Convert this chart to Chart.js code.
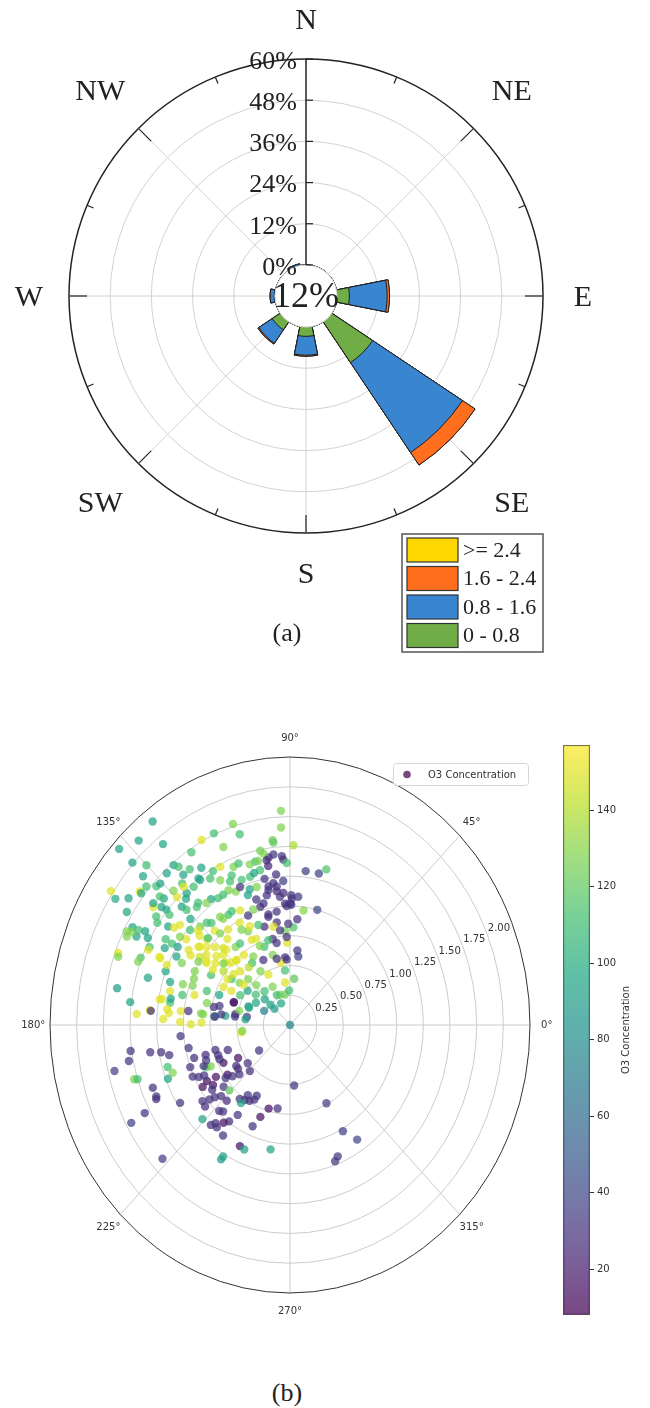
<!DOCTYPE html>
<html><head><meta charset="utf-8">
<script src="https://cdn.jsdelivr.net/npm/chart.js@4.4.1/dist/chart.umd.min.js"></script>
<style>
html,body{margin:0;padding:0;background:#fff;}
body{width:650px;height:1408px;position:relative;overflow:hidden;}
canvas{position:absolute;}
.cap{position:absolute;font-family:"Liberation Serif",serif;font-size:26px;color:#222;transform:translate(-50%,-50%);white-space:nowrap;}
</style></head><body>
<canvas id="rose" width="650" height="660" style="left:0;top:0"></canvas>
<div class="cap" style="left:287px;top:633px">(a)</div>
<canvas id="polar" width="560" height="640" style="left:0;top:700px"></canvas>
<canvas id="cbar" width="110" height="620" style="left:540px;top:720px"></canvas>
<div class="cap" style="left:287px;top:1393px">(b)</div>
<script>
// ---------------- (a) wind rose data ----------------
const directions = ['N','NNE','NE','ENE','E','ESE','SE','SSE','S','SSW','SW','WSW','W','WNW','NW','NNW'];
const compassLabels = ['N','NE','E','SE','S','SW','W','NW'];
const speedBins = ['0 - 0.8','0.8 - 1.6','1.6 - 2.4','>= 2.4'];
const freqSpeed0to08  = [0,0,0,0,3.6,0,14.3,0,2.7,0,2.8,0,0.2,0,0,0];
const freqSpeed08to16 = [0,0,0,0,11.0,0,31.5,0,5.5,0,4.7,0,1.2,0,0,0.5];
const freqSpeed16to24 = [0,0,0,0,0.7,0,4.4,0,0.3,0,0.3,0,0,0,0,0];
const freqSpeed24up   = [0,0,0,0,0,0,0,0,0,0,0,0,0,0,0,0];
const roseTicks = [0,12,24,36,48,60];
const roseCenterText = '12%';
const binColors = ['#70AD47','#3A85D0','#FF6F1E','#FFD700'];

// ---------------- (b) polar scatter data ----------------
const windDirDeg = [
 92.7,92.9,88.8,96.0,83.5,78.0,75.4,98.1,92.6,100.8,
 95.8,96.2,93.1,91.3,99.8,103.4,99.0,98.7,95.9,93.0,
 93.2,89.4,85.9,89.3,82.5,75.2,87.8,85.6,83.7,82.3,
 94.6,84.2,97.5,110.2,114.7,95.0,100.1,92.6,98.2,93.3,
 92.2,102.7,106.2,102.3,105.7,113.1,99.8,96.3,101.0,106.7,
 100.4,91.6,
 107.6,106.4,113.9,118.1,127.0,132.5,128.1,137.3,137.3,135.1,
 122.5,112.7,146.2,147.1,148.2,159.4,150.9,152.8,169.2,172.7,
 176.3,174.6,158.0,163.4,155.0,162.2,169.7,170.6,177.6,174.9,
 173.5,179.6,173.0,173.7,174.0,172.8,168.0,160.1,169.9,170.5,
 158.1,166.0,187.6,
 144.9,141.5,139.2,137.1,132.2,129.1,128.4,122.2,119.2,116.2,
 111.7,105.6,102.2,106.7,115.0,121.3,127.9,131.2,134.6,138.1,
 140.1,144.0,144.1,140.8,131.4,122.3,117.0,109.6,122.0,135.6,
 148.3,151.6,125.9,140.1,154.1,152.7,160.4,
 143.5,142.6,143.0,143.5,144.1,144.8,143.2,144.1,141.5,137.6,
 137.1,136.9,137.3,137.1,136.8,136.5,136.1,135.6,133.3,130.0,
 137.4,147.9,152.8,153.2,150.5,146.7,131.7,129.1,127.9,126.3,
 124.3,121.5,115.6,116.9,116.2,125.1,119.8,118.8,116.5,113.7,
 110.1,105.4,99.3,95.8,104.8,113.5,124.9,130.4,134.1,132.6,
 130.0,125.0,119.8,114.4,109.9,135.6,140.7,140.6,145.4,143.0,
 148.3,148.1,136.4,132.3,141.6,142.3,149.9,153.6,158.8,165.8,
 166.0,164.3,166.7,159.2,152.5,159.9,156.7,152.9,151.8,149.7,
 153.9,140.0,139.0,141.0,134.0,138.5,145.5,133.0,128.5,142.0,
 146.0,
 174.4,172.1,160.2,159.4,173.4,186.4,172.2,166.4,173.3,178.6,
 178.6,173.4,168.8,170.0,174.8,161.2,160.2,
 185.2,191.5,197.1,197.6,196.7,199.8,204.3,205.0,207.0,209.7,
 219.0,216.4,225.8,217.0,215.5,212.1,211.1,207.0,200.7,212.4,
 214.9,219.8,224.0,220.7,217.9,220.7,227.4,227.0,232.8,236.0,
 236.1,237.0,234.8,228.5,223.9,232.8,250.2,254.1,235.9,231.4,
 245.2,260.1,240.4,240.2,223.2,208.9,208.5,206.4,202.3,197.3,
 197.7,193.2,191.3,188.3,189.9,190.7,192.6,197.1,201.5,212.4,
 274.4,297.5,299.1,303.2,292.1,290.3,200.0,203.1,200.6,200.6,
 203.5,214.3,221.1,218.6,216.4,216.7,222.7,219.6,229.8,229.2,
 234.9,239.2,241.9,242.3,247.6,247.7,260.6,205.4,207.8,205.6,
 0,
 137.8,135.7,128.2,125.7,109.6,102.2,110.4,118.3,124.7,130.7,
 138.5,141.4,135.1,127.4,112.0,108.3,105.1,96.1,90.0,103.7,
 115.9,125.8,130.7,139.6,144.3,151.2,146.5,142.1,136.5,130.4,
 119.6,114.4,109.5,102.6,100.7,96.7,91.1,92.4,100.3,105.9,
 113.1,116.7,124.4,133.3,146.4,148.2,147.3,140.4,132.5,120.9,
 114.6,102.6,93.3,152.2,150.7,151.3,154.6,159.5,155.3,156.4,
 97.5,101.3,91.8,89.1,97.5
];
const windSpeed = [
 1.80,1.66,1.51,1.56,1.30,1.30,1.35,1.42,1.39,1.49,
 1.54,1.44,1.42,1.36,1.46,1.41,1.40,1.35,1.27,1.21,
 1.11,1.09,1.08,1.01,0.97,1.00,0.82,0.89,0.63,0.58,
 0.57,0.39,0.36,0.27,0.20,1.08,1.15,1.02,0.87,0.79,
 0.69,0.74,0.86,0.95,1.03,1.00,1.18,1.13,1.25,1.10,
 0.26,0.29,
 1.77,1.67,1.76,1.76,2.14,2.10,1.93,2.18,2.01,1.90,
 1.72,1.62,2.02,1.95,1.80,1.72,1.69,1.72,1.65,1.51,
 1.44,1.32,1.51,1.39,1.35,1.18,1.22,1.14,1.19,1.14,
 1.03,0.93,0.96,0.82,0.71,0.61,0.73,0.56,0.52,0.41,
 0.42,0.49,0.46,
 1.85,1.80,1.78,1.71,1.72,1.73,1.61,1.56,1.48,1.48,
 1.43,1.40,1.33,1.30,1.33,1.44,1.47,1.47,1.51,1.59,
 1.51,1.55,1.41,1.33,1.32,1.26,1.27,1.03,1.09,1.18,
 1.30,1.21,0.99,0.90,1.70,1.62,1.71,
 1.21,1.08,0.98,0.87,0.77,0.67,0.59,0.49,0.41,0.32,
 0.25,0.20,1.06,0.96,0.86,0.76,0.65,0.55,0.46,0.37,
 1.17,1.10,1.14,1.00,0.85,0.70,1.06,0.93,0.83,0.73,
 0.63,0.53,0.47,0.36,0.28,1.09,1.10,0.98,0.88,0.79,
 0.70,0.61,0.53,0.46,1.32,1.37,1.50,1.56,1.57,1.44,
 1.34,1.29,1.26,1.23,1.16,1.42,1.46,1.56,1.51,1.36,
 1.37,1.24,1.29,1.16,1.78,1.62,1.57,1.47,1.25,1.16,
 1.04,0.93,0.80,0.71,0.62,0.83,0.98,0.70,0.53,0.37,
 0.27,1.02,0.80,0.68,0.90,1.13,0.95,0.74,0.62,0.55,
 1.02,
 0.71,0.65,0.56,0.41,0.42,0.45,0.52,0.68,0.84,0.83,
 1.03,1.16,1.14,1.24,1.31,1.06,0.97,
 1.03,0.97,0.94,0.83,0.73,0.62,0.86,0.82,0.70,0.56,
 0.51,0.36,0.54,0.61,0.72,0.82,0.91,0.96,1.00,0.97,
 0.88,0.81,0.79,0.93,1.04,1.05,0.98,0.87,0.78,0.76,
 0.71,0.90,0.99,1.12,1.14,1.03,0.82,0.73,1.12,1.10,
 1.12,1.06,1.27,1.30,1.64,1.70,1.55,1.40,1.39,1.53,
 1.50,1.69,1.54,1.51,1.33,1.23,1.16,1.20,1.23,1.22,
 0.51,0.74,1.02,1.15,1.19,1.22,1.17,0.88,0.84,0.72,
 0.72,0.61,0.63,0.69,0.75,0.91,0.88,0.98,1.08,0.96,
 0.80,0.74,0.71,0.67,0.92,1.13,0.71,1.01,0.91,1.39,
 0,
 1.86,1.70,1.69,1.61,1.44,1.41,1.30,1.38,1.48,1.53,
 1.63,1.64,1.37,1.29,1.25,1.20,1.20,1.17,1.02,1.05,
 1.07,1.12,1.13,1.23,1.27,1.34,1.14,1.07,1.06,1.01,
 0.92,0.91,0.89,0.93,0.84,0.80,0.85,0.74,0.70,0.74,
 0.72,0.80,0.83,0.87,0.94,1.01,0.86,0.81,0.74,0.67,
 0.60,0.57,0.55,1.68,1.63,1.52,1.47,1.52,1.34,1.26,
 1.20,1.11,1.00,1.06,0.96
];
const o3Conc = [
 128,128,138,125,35,38,115,30,28,125,
 120,32,30,112,128,110,28,25,30,35,
 28,30,34,32,130,40,115,30,32,36,
 30,120,150,128,95,30,32,30,28,125,
 150,30,25,28,30,30,30,26,30,32,
 125,112,
 128,112,112,150,95,95,95,95,95,112,
 112,128,150,100,95,150,95,128,90,95,
 150,150,115,95,150,95,150,112,150,150,
 150,150,30,128,95,95,30,25,30,30,
 95,128,150,
 95,150,112,112,95,95,95,95,112,150,
 128,128,112,112,112,112,112,95,150,95,
 95,112,95,150,112,112,128,128,112,128,
 112,95,150,150,128,95,128,
 150,150,150,150,140,112,128,95,112,95,
 95,90,150,150,150,150,150,128,128,112,
 150,150,128,128,112,150,150,150,128,150,
 112,128,150,128,112,128,112,150,128,150,
 112,128,150,112,95,112,95,112,128,95,
 112,95,112,128,95,95,112,95,112,150,
 112,95,95,112,95,150,95,112,95,150,
 112,150,128,95,150,112,128,150,112,95,
 70,152,148,150,146,150,150,150,140,150,
 145,
 30,30,15,95,95,128,30,30,128,150,
 150,150,95,150,30,128,128,
 30,30,28,25,30,28,112,128,15,15,
 30,30,28,30,15,15,15,30,30,15,
 15,30,120,30,30,28,30,25,30,30,
 30,30,28,30,95,15,15,15,30,30,
 15,95,95,90,35,35,30,30,30,128,
 112,35,30,30,30,30,30,112,95,30,
 30,35,35,38,32,32,128,30,30,30,
 30,30,30,30,30,30,30,30,30,30,
 95,30,30,30,30,95,30,30,30,30,
 75,
 95,95,112,112,112,128,112,128,95,150,
 112,95,112,128,30,95,128,30,30,30,
 150,128,112,112,128,95,150,150,112,128,
 128,150,112,30,150,30,30,30,30,112,
 128,150,112,150,150,128,150,128,150,128,
 30,30,30,128,112,95,150,128,150,150,
 30,30,30,30,30
];
const ringTicks = [0.25,0.50,0.75,1.00,1.25,1.50,1.75,2.00];
const rMax = 2.25;
const angleTicks = [0,45,90,135,180,225,270,315];
const o3Min = 8, o3Max = 157;
const colorbarTicks = [20,40,60,80,100,120,140];
const seriesName = 'O3 Concentration';

// ---------------- helpers ----------------
const VIRIDIS = ['#440154','#482475','#414487','#355f8d','#2a788e','#21918c','#22a884','#44bf70','#7ad151','#bddf26','#fde725'];
function hexRgb(h){return [parseInt(h.slice(1,3),16),parseInt(h.slice(3,5),16),parseInt(h.slice(5,7),16)];}
function viridis(v,a){
  let t=(v-o3Min)/(o3Max-o3Min); t=Math.max(0,Math.min(1,t));
  const p=t*(VIRIDIS.length-1), i=Math.min(Math.floor(p),VIRIDIS.length-2), f=p-i;
  const c0=hexRgb(VIRIDIS[i]), c1=hexRgb(VIRIDIS[i+1]);
  const c=c0.map((x,k)=>Math.round(x+(c1[k]-x)*f));
  return `rgba(${c[0]},${c[1]},${c[2]},${a})`;
}
function cumulative(){
  const layers=[freqSpeed0to08,freqSpeed08to16,freqSpeed16to24,freqSpeed24up];
  const out=[]; let run=directions.map(()=>0);
  layers.forEach(l=>{run=run.map((v,i)=>v+l[i]); out.push(run.slice());});
  return out;
}

// ---------------- (a) chart ----------------
const serif='"Liberation Serif", serif';
const cum=cumulative();
const roseDatasets=speedBins.map((lab,i)=>({label:lab,data:cum[i],backgroundColor:binColors[i],borderColor:'#1e1e1e',borderWidth:1}));

function polarPt(cx,cy,d,a){const r=a*Math.PI/180;return [cx+d*Math.sin(r),cy-d*Math.cos(r)];}
const rosePlugin={
  id:'roseDecor',
  beforeDatasetsDraw(chart){
    const s=chart.scales.r, ctx=chart.ctx, cx=s.xCenter, cy=s.yCenter;
    const r0=s.getDistanceFromCenterForValue(0), R=s.getDistanceFromCenterForValue(roseTicks[roseTicks.length-1]);
    ctx.save(); ctx.strokeStyle='#d2d2d2'; ctx.lineWidth=1;
    for(let a=45;a<360;a+=45){const p=polarPt(cx,cy,r0,a),q=polarPt(cx,cy,R,a);ctx.beginPath();ctx.moveTo(p[0],p[1]);ctx.lineTo(q[0],q[1]);ctx.stroke();}
    ctx.restore();
  },
  afterDatasetsDraw(chart){
    const s=chart.scales.r, ctx=chart.ctx, cx=s.xCenter, cy=s.yCenter;
    const r0=s.getDistanceFromCenterForValue(0), R=s.getDistanceFromCenterForValue(roseTicks[roseTicks.length-1]);
    ctx.save();
    ctx.fillStyle='#fff'; ctx.beginPath(); ctx.arc(cx,cy,r0,0,Math.PI*2); ctx.fill();
    ctx.strokeStyle='#d2d2d2'; ctx.lineWidth=1; ctx.beginPath(); ctx.arc(cx,cy,r0,0,Math.PI*2); ctx.stroke();
    ctx.strokeStyle='#222'; ctx.lineWidth=1.2;
    for(let k=1;k<16;k++){const a=k*22.5, len=(k%2===0)?18:7;const p=polarPt(cx,cy,R-len,a),q=polarPt(cx,cy,R,a);ctx.beginPath();ctx.moveTo(p[0],p[1]);ctx.lineTo(q[0],q[1]);ctx.stroke();}
    ctx.lineWidth=1.5; ctx.beginPath(); ctx.moveTo(cx,cy-r0); ctx.lineTo(cx,cy-R); ctx.stroke();
    ctx.lineWidth=1.2;
    roseTicks.forEach(v=>{const d=s.getDistanceFromCenterForValue(v);ctx.beginPath();ctx.moveTo(cx,cy-d);ctx.lineTo(cx+7,cy-d);ctx.stroke();});
    ctx.fillStyle='#222'; ctx.font='26px '+serif; ctx.textAlign='right'; ctx.textBaseline='middle';
    roseTicks.forEach(v=>{const d=s.getDistanceFromCenterForValue(v);ctx.fillText(v+'%',cx-9,cy-d+3);});
    ctx.font='30px '+serif; ctx.textAlign='center';
    compassLabels.forEach((lab,i)=>{const a=i*45;const d=(i%2===0)?277:291;const p=polarPt(cx,cy,d,a);ctx.fillText(lab,p[0],p[1]+2);});
    ctx.font='36px '+serif; ctx.fillText(roseCenterText,cx,cy+2);
    const lx=402, ly=534, lw=141, lh=118;
    ctx.strokeStyle='#555'; ctx.lineWidth=1.5; ctx.strokeRect(lx,ly,lw,lh);
    const ds=chart.data.datasets.slice().reverse();
    ctx.font='22px '+serif; ctx.textAlign='left';
    ds.forEach((d,i)=>{
      const y=ly+4+i*28.5;
      ctx.fillStyle=d.backgroundColor; ctx.fillRect(lx+5,y,51,24);
      ctx.strokeStyle='#333'; ctx.lineWidth=1.2; ctx.strokeRect(lx+5,y,51,24);
      ctx.fillStyle='#222'; ctx.fillText(d.label,lx+61,y+13);
    });
    ctx.restore();
  }
};

new Chart(document.getElementById('rose'),{
  type:'polarArea',
  data:{labels:directions,datasets:roseDatasets},
  options:{
    responsive:false, animation:false, events:[],
    layout:{padding:{left:69,top:59,right:107,bottom:127}},
    plugins:{legend:{display:false},tooltip:{enabled:false}},
    scales:{r:{
      min:-9.05, max:60, startAngle:-11.25,
      afterBuildTicks:s=>{s.ticks=roseTicks.map(v=>({value:v}));},
      ticks:{display:false},
      grid:{circular:true,color:c=>(c.tick&&c.tick.value===60)?'#222':'#d2d2d2',lineWidth:c=>(c.tick&&c.tick.value===60)?1.5:1},
      angleLines:{display:false}, pointLabels:{display:false}
    }}
  },
  plugins:[rosePlugin]
});

// ---------------- (b) polar scatter ----------------
const scatterPts=windDirDeg.map((t,i)=>({x:windSpeed[i]*Math.cos(t*Math.PI/180),y:windSpeed[i]*Math.sin(t*Math.PI/180)}));
const scatterColors=o3Conc.map(v=>viridis(v,0.72));
const sans='"DejaVu Sans", sans-serif';
const polarGrid={
  id:'polarGrid',
  beforeDatasetsDraw(chart){
    const xs=chart.scales.x, ys=chart.scales.y, ctx=chart.ctx;
    const cx=xs.getPixelForValue(0), cy=ys.getPixelForValue(0);
    const rx=r=>xs.getPixelForValue(r)-cx, ry=r=>cy-ys.getPixelForValue(r);
    ctx.save();
    ctx.strokeStyle='#cccccc'; ctx.lineWidth=1;
    ringTicks.forEach(r=>{ctx.beginPath();ctx.ellipse(cx,cy,rx(r),ry(r),0,0,Math.PI*2);ctx.stroke();});
    angleTicks.forEach(a=>{const t=a*Math.PI/180;ctx.beginPath();ctx.moveTo(cx,cy);ctx.lineTo(cx+rx(rMax)*Math.cos(t),cy-ry(rMax)*Math.sin(t));ctx.stroke();});
    ctx.strokeStyle='#333'; ctx.lineWidth=1;
    ctx.beginPath();ctx.ellipse(cx,cy,rx(rMax),ry(rMax),0,0,Math.PI*2);ctx.stroke();
    ctx.fillStyle='#333'; ctx.font='10px '+sans; ctx.textAlign='center'; ctx.textBaseline='middle';
    angleTicks.forEach(a=>{const t=a*Math.PI/180;ctx.fillText(a+'°',cx+1.07*rx(rMax)*Math.cos(t),cy-1.07*ry(rMax)*Math.sin(t));});
    const lt=22.5*Math.PI/180;
    ringTicks.forEach(r=>{const d=r+0.12;ctx.fillText(r.toFixed(2),cx+rx(d)*Math.cos(lt),cy-ry(d)*Math.sin(lt));});
    ctx.restore();
  },
  afterDraw(chart){
    const ctx=chart.ctx;
    ctx.save();
    ctx.fillStyle='rgba(255,255,255,0.85)'; ctx.strokeStyle='#d6d6d6'; ctx.lineWidth=1;
    ctx.beginPath(); ctx.roundRect(393.5,63.5,135,22,3); ctx.fill(); ctx.stroke();
    ctx.fillStyle=viridis(o3Min,0.72); ctx.beginPath(); ctx.arc(407,74.5,3.8,0,Math.PI*2); ctx.fill();
    ctx.fillStyle='#333'; ctx.font='10px '+sans; ctx.textAlign='left'; ctx.textBaseline='middle';
    ctx.fillText(chart.data.datasets[0].label,428,75);
    ctx.restore();
  }
};
new Chart(document.getElementById('polar'),{
  type:'scatter',
  data:{datasets:[{label:seriesName,data:scatterPts,backgroundColor:scatterColors,borderWidth:0,pointRadius:4.2}]},
  options:{
    responsive:false, animation:false, events:[],
    layout:{padding:{left:50,right:30,top:57,bottom:47}},
    plugins:{legend:{display:false},tooltip:{enabled:false}},
    scales:{x:{type:'linear',min:-rMax,max:rMax,display:false},y:{type:'linear',min:-rMax,max:rMax,display:false}}
  },
  plugins:[polarGrid]
});

// ---------------- colorbar ----------------
const cbTitle={
  id:'cbTitle',
  afterDraw(chart){
    const ctx=chart.ctx, ca=chart.chartArea;
    ctx.save(); ctx.fillStyle='#333'; ctx.font='10px '+sans; ctx.textAlign='center'; ctx.textBaseline='middle';
    ctx.translate(86,(ca.top+ca.bottom)/2); ctx.rotate(-Math.PI/2); ctx.fillText(seriesName,0,0); ctx.restore();
  }
};
new Chart(document.getElementById('cbar'),{
  type:'bar',
  data:{labels:[seriesName],datasets:[{data:[[o3Min,o3Max]],
    backgroundColor:c=>{const ca=c.chart.chartArea;if(!ca)return 'rgba(0,0,0,0)';const g=c.chart.ctx.createLinearGradient(0,ca.bottom,0,ca.top);VIRIDIS.forEach((h,i)=>{const k=hexRgb(h);g.addColorStop(i/(VIRIDIS.length-1),`rgba(${k[0]},${k[1]},${k[2]},0.72)`);});return g;},
    borderColor:'rgba(50,50,50,0.8)',borderWidth:1,borderSkipped:false,barPercentage:1,categoryPercentage:1}]},
  options:{
    responsive:false, animation:false, events:[],
    layout:{padding:{left:23,top:25,bottom:25,right:0}},
    plugins:{legend:{display:false},tooltip:{enabled:false}},
    scales:{
      x:{display:false},
      y:{position:'right',min:o3Min,max:o3Max,
        afterBuildTicks:s=>{s.ticks=colorbarTicks.map(v=>({value:v}));},
        afterFit:s=>{s.width=60;},
        ticks:{font:{family:'DejaVu Sans',size:10},color:'#333',padding:3},
        grid:{drawOnChartArea:false,drawTicks:true,tickLength:4,color:'#333'},
        border:{display:false}}
    }
  },
  plugins:[cbTitle]
});
</script>
</body></html>
